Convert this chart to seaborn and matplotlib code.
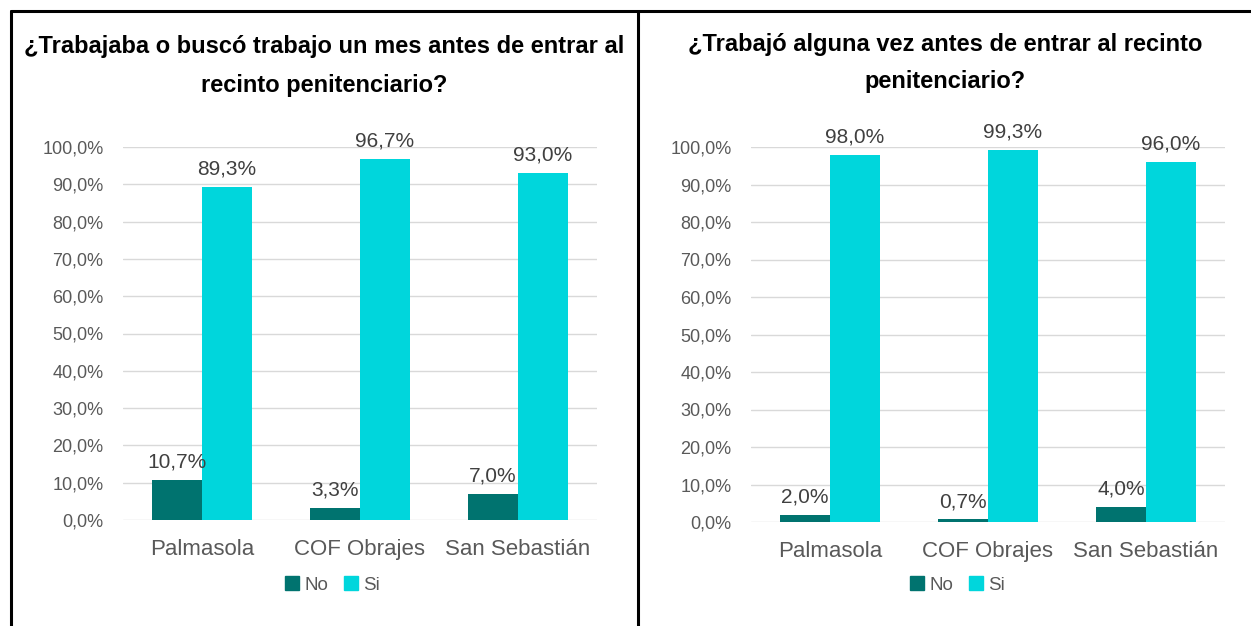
import matplotlib
matplotlib.use("Agg")
import matplotlib.pyplot as plt
from matplotlib.lines import Line2D
from matplotlib.ticker import FuncFormatter, MultipleLocator
import seaborn as sns
import pandas as pd

# data
recintos = ["Palmasola", "COF Obrajes", "San Sebastián"]
respuestas = ["No", "Si"]
mes_antes_no = [10.7, 3.3, 7.0]
mes_antes_si = [89.3, 96.7, 93.0]
alguna_vez_no = [2.0, 0.7, 4.0]
alguna_vez_si = [98.0, 99.3, 96.0]
titulos = ["¿Trabajaba o buscó trabajo un mes antes de entrar al\nrecinto penitenciario?",
           "¿Trabajó alguna vez antes de entrar al recinto\npenitenciario?"]

colores = {"No": "#00736f", "Si": "#00d6dc"}

sns.set_style("white")
plt.rcParams["font.family"] = ["Liberation Sans", "DejaVu Sans"]

W, H = 1251, 626
fig = plt.figure(figsize=(W / 100, H / 100), dpi=100)


def tabla(no, si):
    rows = []
    for i, r in enumerate(recintos):
        rows.append({"recinto": r, "resp": "No", "pct": no[i]})
        rows.append({"recinto": r, "resp": "Si", "pct": si[i]})
    return pd.DataFrame(rows)


def pct_fmt(v, pos):
    return ("%.1f%%" % v).replace(".", ",")


paneles = [
    (tabla(mes_antes_no, mes_antes_si), [123, 147, 597, 520], titulos[0], 324, 66, 285, 1.85),
    (tabla(alguna_vez_no, alguna_vez_si), [751, 147, 1225, 522], titulos[1], 945, 63, 910, 1.75),
]

for df, (x0, y0, x1, y1), titulo, tx, ty, lx, ls in paneles:
    ax = fig.add_axes([x0 / W, 1 - y1 / H, (x1 - x0) / W, (y1 - y0) / H])
    sns.barplot(data=df, x="recinto", y="pct", hue="resp", hue_order=respuestas,
                palette=colores, width=0.63, saturation=1, linewidth=0, ax=ax, legend=True)
    ax.set_ylim(0, 100)
    ax.yaxis.set_major_locator(MultipleLocator(10))
    ax.yaxis.set_major_formatter(FuncFormatter(pct_fmt))
    ax.grid(axis="y", color="#d9d9d9", linewidth=1)
    ax.set_axisbelow(True)
    for s in ax.spines.values():
        s.set_visible(False)
    ax.tick_params(axis="y", labelsize=13, labelcolor="#595959", length=0, pad=14)
    ax.tick_params(axis="x", labelsize=16, labelcolor="#595959", length=0, pad=14)
    ax.set_xlabel("")
    ax.set_ylabel("")
    for cont in ax.containers:
        for bar in cont:
            h = bar.get_height()
            ax.annotate(("%.1f%%" % h).replace(".", ","),
                        (bar.get_x() + bar.get_width() / 2, h),
                        xytext=(0, 6), textcoords="offset points",
                        ha="center", va="bottom", fontsize=15, color="#404040",
                        annotation_clip=False)
    ax.get_legend().remove()
    handles = [plt.Rectangle((0, 0), 1, 1, color=colores[r]) for r in respuestas]
    fig.legend(handles, respuestas, loc="center left",
               bbox_to_anchor=(lx / W, 1 - 585 / H), ncol=2, frameon=False,
               fontsize=13.5, labelcolor="#595959", handlelength=0.75,
               handleheight=0.75, handletextpad=0.3, columnspacing=0.8,
               borderpad=0, borderaxespad=0)
    fig.text(tx / W, 1 - ty / H, titulo, ha="center", va="center",
             fontsize=17, fontweight="bold", linespacing=ls, color="black")

# cuadro de la tabla
lw = 2.2
fig.add_artist(Line2D([10.5 / W, 1], [1 - 10.5 / H] * 2, color="black", lw=lw))
fig.add_artist(Line2D([10.5 / W] * 2, [0, 1 - 10.5 / H], color="black", lw=lw))
fig.add_artist(Line2D([637.5 / W] * 2, [0, 1 - 10.5 / H], color="black", lw=lw))

fig.savefig("out.png", dpi=100)
